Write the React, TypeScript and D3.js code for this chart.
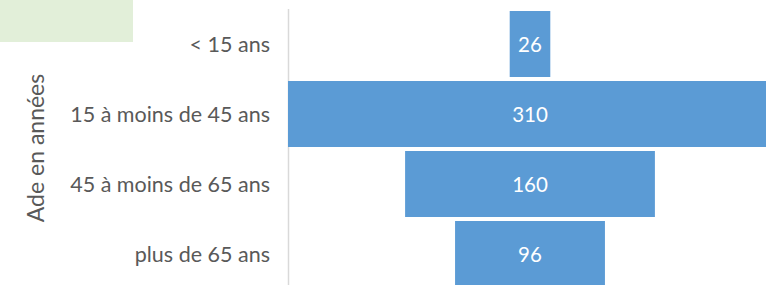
import React, { useRef, useEffect } from "react";
import * as d3 from "d3";

const categories = ["< 15 ans", "15 à moins de 45 ans", "45 à moins de 65 ans", "plus de 65 ans"];
const values = [26, 310, 160, 96];
const axisTitle = "Ade en années";

const W = 766;
const H = 285;

export default function App() {
  const svgRef = useRef<SVGSVGElement>(null);

  useEffect(() => {
    const svg = d3.select(svgRef.current);
    svg.selectAll("*").remove();

    const font = "Lato, 'Open Sans', sans-serif";
    const maxV = d3.max(values) || 1;

    // funnel: bars centred on zero, axis line at the left edge of widest bar
    const x = d3.scaleLinear().domain([-maxV, maxV]).range([288, 772]);
    const y = d3
      .scaleBand<string>()
      .domain(categories)
      .range([7, 291])
      .padding(4 / 70);

    // light green box top-left
    svg.append("rect")
      .attr("x", 0).attr("y", 0)
      .attr("width", 133).attr("height", 42)
      .attr("fill", "#e2efd9");

    // vertical axis line
    svg.append("line")
      .attr("x1", 288.5).attr("x2", 288.5)
      .attr("y1", 9).attr("y2", H)
      .attr("stroke", "#d9d9d9")
      .attr("stroke-width", 1.5);

    const rows = categories.map((c, i) => ({ c, v: values[i] }));

    svg.selectAll(".bar")
      .data(rows)
      .enter()
      .append("rect")
      .attr("class", "bar")
      .attr("x", (d) => x(-d.v))
      .attr("y", (d) => y(d.c) || 0)
      .attr("width", (d) => x(d.v) - x(-d.v))
      .attr("height", y.bandwidth())
      .attr("fill", "#5b9bd5");

    svg.selectAll(".val")
      .data(rows)
      .enter()
      .append("text")
      .attr("class", "val")
      .attr("x", x(0))
      .attr("y", (d) => (y(d.c) || 0) + y.bandwidth() / 2)
      .attr("text-anchor", "middle")
      .attr("dominant-baseline", "central")
      .attr("font-family", font)
      .attr("font-size", "20.5px")
      .attr("fill", "white")
      .text((d) => d.v);

    svg.selectAll(".cat")
      .data(categories)
      .enter()
      .append("text")
      .attr("class", "cat")
      .attr("x", 270)
      .attr("y", (d) => (y(d) || 0) + y.bandwidth() / 2)
      .attr("text-anchor", "end")
      .attr("dominant-baseline", "central")
      .attr("font-family", font)
      .attr("font-size", "21.5px")
      .attr("fill", "#595959")
      .text((d) => d);

    svg.append("text")
      .attr("transform", `translate(44,148) rotate(-90)`)
      .attr("text-anchor", "middle")
      .attr("font-family", font)
      .attr("font-size", "23px")
      .attr("fill", "#595959")
      .text(axisTitle);
  }, []);

  return (
    <svg
      ref={svgRef}
      width={W}
      height={H}
      style={{ position: "absolute", left: 0, top: 0, background: "white" }}
    />
  );
}
